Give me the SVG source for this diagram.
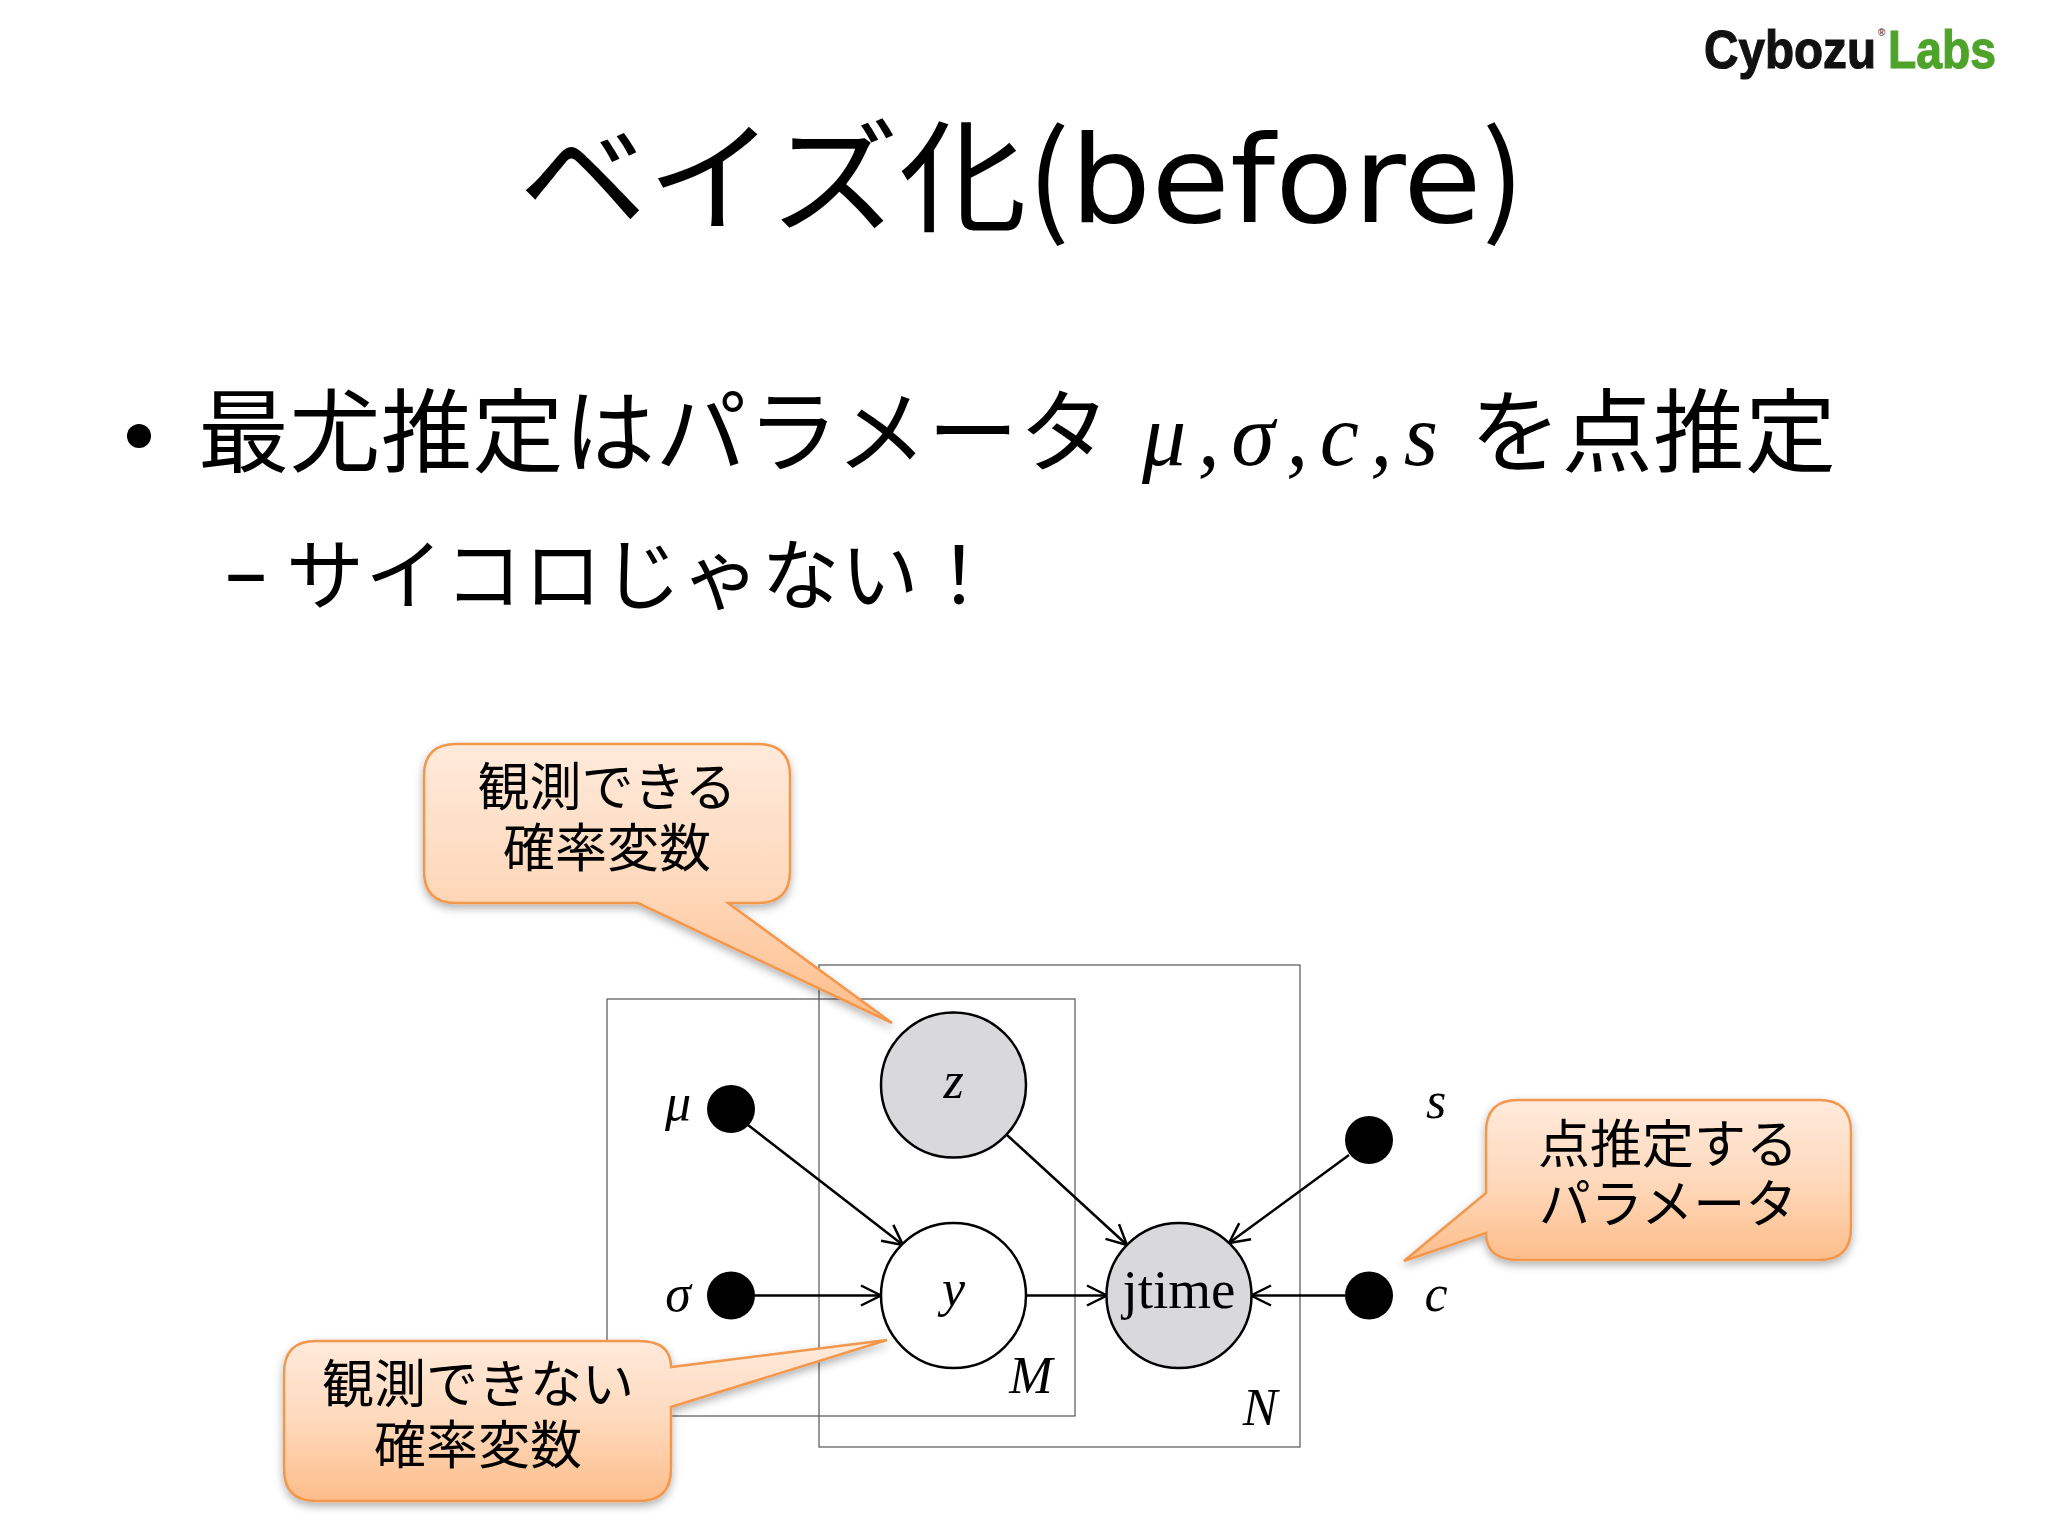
<svg xmlns="http://www.w3.org/2000/svg" width="2048" height="1536" viewBox="0 0 2048 1536">
<style>
.jp{font-family:"Noto Sans CJK JP","Noto Sans",sans-serif;fill:#000}
.lat{font-family:"DejaVu Sans","Noto Sans CJK JP",sans-serif}
.m{font-family:"Liberation Serif",serif;font-style:italic;fill:#000}
.plate{fill:none;stroke:#55555a;stroke-width:1.2}
.edge{fill:none;stroke:#000;stroke-width:2.5;marker-end:url(#arr)}
.node{stroke:#000;stroke-width:2.5}
.call{fill:url(#g);stroke:#f3974e;stroke-width:2.5;filter:url(#sh)}
.ct{font-size:52px;text-anchor:middle}
.ml{font-size:52px;text-anchor:middle}
</style>
<defs>
<linearGradient id="g" x1="0" y1="0" x2="0" y2="1"><stop offset="0" stop-color="#ffeadb"/><stop offset="0.5" stop-color="#fed9bc"/><stop offset="1" stop-color="#fdbd8a"/></linearGradient>
<filter id="sh" x="-10%" y="-10%" width="120%" height="125%"><feDropShadow dx="0" dy="4" stdDeviation="4" flood-color="#000" flood-opacity="0.3"/></filter>
<marker id="arr" markerUnits="userSpaceOnUse" markerWidth="26" markerHeight="26" refX="22" refY="12" orient="auto"><path d="M2 2 L22 12 L2 22" fill="none" stroke="#000" stroke-width="2.5"/></marker>
</defs>
<rect width="2048" height="1536" fill="#fff"/>
<g id="logo" font-family="Liberation Sans,sans-serif" font-weight="700" font-size="54" stroke-width="1.2"><text x="1704" y="68" fill="#111" stroke="#111" textLength="172" lengthAdjust="spacingAndGlyphs">Cybozu</text><text x="1878" y="36" fill="#444" font-size="10" stroke="none">®</text><text x="1888" y="68" fill="#4ea32a" stroke="#4ea32a" textLength="108" lengthAdjust="spacingAndGlyphs">Labs</text></g>
<text id="title" class="jp" x="519" y="222" font-size="122" textLength="1006" lengthAdjust="spacingAndGlyphs">ベイズ化(<tspan class="lat">before</tspan>)</text>
<g id="bullets">
<circle cx="139" cy="436" r="12" fill="#000"/>
<text class="jp" x="198" y="465" font-size="91" textLength="912" lengthAdjust="spacing">最尤推定はパラメータ</text>
<text class="m" x="1142" y="465" font-size="88" textLength="296" lengthAdjust="spacing">μ,σ,c,s</text>
<text class="jp" x="1470" y="465" font-size="91" textLength="366" lengthAdjust="spacing">を点推定</text>
<text class="lat" x="224" y="602" font-size="88">–</text>
<text class="jp" x="286" y="604" font-size="78" textLength="712" lengthAdjust="spacing">サイコロじゃない！</text>
</g>
<g id="plates">
<rect id="plateN" class="plate" x="819" y="965" width="481" height="482"/>
<rect id="plateM" class="plate" x="607" y="999" width="468" height="417"/>
<text class="m ml" x="1031" y="1393">M</text>
<text class="m ml" x="1260" y="1425">N</text>
</g>
<g id="connectors">
<path class="edge" d="M748 1125 L903 1245"/>
<path class="edge" d="M755 1295.5 L881 1295.5"/>
<path class="edge" d="M1007 1135 L1127 1245"/>
<path class="edge" d="M1026 1295.5 L1107 1295.5"/>
<path class="edge" d="M1349 1155 L1229 1243"/>
<path class="edge" d="M1345 1295.5 L1251 1295.5"/>
</g>
<g id="node-z"><circle class="node" cx="953.5" cy="1085" r="72.5" fill="#d9d9dc"/><text class="m ml" x="953.5" y="1098">z</text></g>
<g id="node-y"><circle class="node" cx="953.5" cy="1295.5" r="72.5" fill="#fff"/><text class="m ml" x="953.5" y="1306">y</text></g>
<g id="node-jtime"><circle class="node" cx="1179" cy="1295.5" r="72.5" fill="#d9d9dc"/><text x="1179" y="1308" font-family="Liberation Serif,serif" font-size="55" text-anchor="middle">jtime</text></g>
<g id="node-mu"><circle cx="731" cy="1109" r="24"/><text class="m ml" x="678" y="1120">μ</text></g>
<g id="node-sigma"><circle cx="731" cy="1295.5" r="24"/><text class="m ml" x="678" y="1311">σ</text></g>
<g id="node-s"><circle cx="1369" cy="1140" r="24"/><text class="m ml" x="1436" y="1118">s</text></g>
<g id="node-c"><circle cx="1369" cy="1295.5" r="24"/><text class="m ml" x="1436" y="1311">c</text></g>
<g id="callout-observed">
<path class="call" d="M456 744 H758 Q790 744 790 776 V871 Q790 903 758 903 H728 L892 1023 L638 903 H456 Q424 903 424 871 V776 Q424 744 456 744 Z"/>
<text class="jp ct" x="607" y="806">観測できる</text><text class="jp ct" x="607" y="867">確率変数</text>
</g>
<g id="callout-unobserved">
<path class="call" d="M316 1341 H639 Q671 1341 671 1367 L887 1340 L671 1407 V1469 Q671 1501 639 1501 H316 Q284 1501 284 1469 V1373 Q284 1341 316 1341 Z"/>
<text class="jp ct" x="478" y="1403">観測できない</text><text class="jp ct" x="478" y="1464">確率変数</text>
</g>
<g id="callout-param">
<path class="call" d="M1518 1100 H1819 Q1851 1100 1851 1132 V1228 Q1851 1260 1819 1260 H1518 Q1486 1260 1486 1233 L1404 1261 L1486 1193 V1132 Q1486 1100 1518 1100 Z"/>
<text class="jp ct" x="1668" y="1163">点推定する</text><text class="jp ct" x="1668" y="1223">パラメータ</text>
</g>
</svg>
